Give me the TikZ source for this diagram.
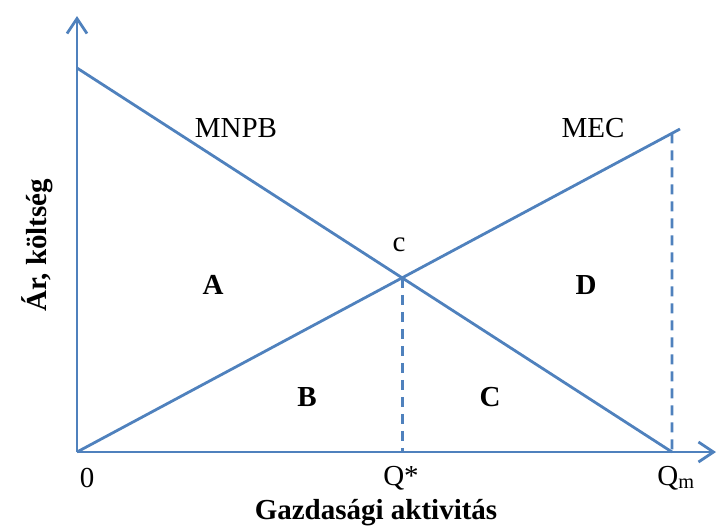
\documentclass[tikz,border=0pt]{standalone}
\usepackage{fontspec}
\setmainfont{Liberation Serif}
\usetikzlibrary{arrows.meta}
\definecolor{curveblue}{RGB}{79,129,189}
\tikzset{
  curve/.style={curveblue,line width=2.8pt},
  axis/.style={curve,-{Straight Barb[length=15pt,width=20pt,line width=2.8pt]}},
  level/.style={curveblue,line width=2.8pt,dash pattern=on 10pt off 7pt},
  lbl/.style={font=\fontsize{29}{31}\selectfont,inner sep=0pt},
  area/.style={font=\fontsize{29}{31}\selectfont\bfseries,inner sep=0pt}
}
\begin{document}
\begin{tikzpicture}[x=1pt,y=-1pt]
    \useasboundingbox (0,0) rectangle (717,528);
    \coordinate (O) at (77,452);
    \coordinate (ytop) at (77,16);
    \coordinate (xend) at (716,452);
    \coordinate (mnpbstart) at (77,68);
    \coordinate (qm) at (672,452);
    \coordinate (mecend) at (680,129);
    \coordinate (c) at (intersection of mnpbstart--qm and O--mecend);
    \coordinate (qstar) at (c |- O);
    \coordinate (mectop) at (intersection of qm--{672,0} and O--mecend);
        \draw [axis] (O) -- (ytop);
        \draw [axis] (O) -- (xend);
        \draw [curve] (mnpbstart) -- (qm);
        \draw [curve] (O) -- (mecend);
        \draw [level] (c) -- (qstar);
        \draw [level] (mectop) -- (qm);
    % labels
    \node[lbl] (mnpb) at (236,128) {MNPB};
    \node[lbl] (mec) at (593,128) {MEC};
    \node[lbl] (clbl) at (399,245) {c};
    \node[area] (A) at (213,285) {A};
    \node[area] (D) at (586,285) {D};
    \node[area] (B) at (307,397) {B};
    \node[area] (C) at (490,397) {C};
    \node[lbl] (zero) at (87,478) {0};
    \node[lbl] (qstarlbl) at (401,478) {Q*};
    \node[lbl] (qmlbl) at (676,478) {Q\textsubscript{m}};
    \node[area] (xlbl) at (376,513) {Gazdasági aktivitás};
    \node[area,rotate=90] (ylbl) at (37,245) {Ár, költség};
\end{tikzpicture}
\end{document}
